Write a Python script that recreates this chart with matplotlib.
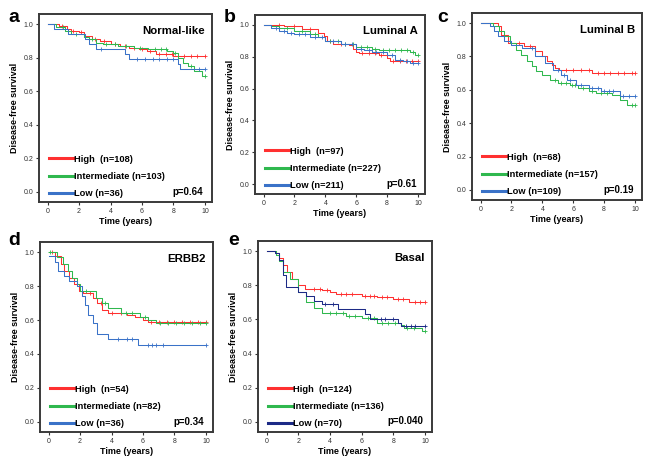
import numpy as np
import matplotlib
matplotlib.use("Agg")
import matplotlib.pyplot as plt
from matplotlib.lines import Line2D

plt.rcParams['font.family'] = ['Liberation Sans', 'DejaVu Sans']

RED = '#ff3030'
GREEN = '#2fb84e'
BLUE = '#3a72c8'
NAVY = '#1c2a86'

# --- a: Normal-like ---
a_high_t = [0, 0.7, 1.2, 1.5, 2.0, 2.3, 2.8, 3.3, 4.0, 4.6, 5.2, 5.8, 6.3, 6.9, 8.0]
a_high_s = [1.0, 0.99, 0.97, 0.96, 0.95, 0.93, 0.91, 0.90, 0.88, 0.87, 0.86, 0.85, 0.84, 0.82, 0.81]
a_high_c = [0.9, 1.6, 2.1, 3.0, 3.6, 4.3, 4.9, 5.5, 6.0, 6.5, 7.1, 7.5, 7.9, 8.3, 8.7, 9.1, 9.5, 10.0]
a_int_t = [0, 0.5, 1.1, 1.5, 2.3, 2.6, 3.1, 3.5, 4.5, 5.5, 6.4, 7.6, 8.0, 8.3, 8.6, 8.9, 9.3, 9.8]
a_int_s = [1.0, 0.98, 0.96, 0.94, 0.92, 0.91, 0.89, 0.88, 0.87, 0.86, 0.85, 0.84, 0.83, 0.80, 0.77, 0.75, 0.72, 0.69]
a_int_c = [1.0, 1.8, 2.8, 3.7, 4.3, 5.0, 5.9, 6.8, 7.2, 7.5, 8.1, 9.1, 10.0]
a_low_t = [0, 0.4, 1.3, 2.4, 2.6, 3.1, 4.9, 5.2, 8.3, 8.4]
a_low_s = [1.0, 0.97, 0.94, 0.91, 0.88, 0.85, 0.82, 0.79, 0.76, 0.73]
a_low_c = [3.4, 5.7, 6.2, 6.7, 7.1, 7.6, 8.0, 9.6, 10.0]

# --- b: Luminal A ---
b_high_t = [0, 1.3, 2.5, 3.5, 3.9, 4.1, 4.5, 5.5, 5.8, 6.0, 6.2, 7.5, 8.0, 8.2]
b_high_s = [1.0, 0.99, 0.97, 0.95, 0.93, 0.90, 0.88, 0.87, 0.85, 0.83, 0.82, 0.81, 0.79, 0.77]
b_high_c = [1.0, 2.0, 3.0, 4.3, 5.0, 6.4, 6.8, 7.2, 7.6, 8.4, 8.8, 9.2, 9.6, 10.0]
b_int_t = [0, 0.5, 1.0, 2.0, 3.0, 3.5, 4.0, 5.0, 6.0, 7.0, 7.5, 9.5, 9.8]
b_int_s = [1.0, 0.99, 0.98, 0.96, 0.94, 0.92, 0.90, 0.88, 0.86, 0.85, 0.84, 0.83, 0.81]
b_int_c = [1.5, 2.5, 3.3, 4.3, 4.8, 5.3, 5.8, 6.3, 6.7, 7.2, 7.7, 8.1, 8.5, 8.9, 9.3, 9.7, 10.0]
b_low_t = [0, 0.5, 1.0, 1.5, 2.0, 3.0, 4.0, 5.0, 6.0, 6.5, 7.0, 8.0, 8.5, 9.0, 9.5]
b_low_s = [1.0, 0.98, 0.96, 0.95, 0.94, 0.92, 0.90, 0.88, 0.85, 0.84, 0.83, 0.81, 0.78, 0.77, 0.76]
b_low_c = [0.8, 1.3, 1.8, 2.3, 2.7, 3.3, 3.8, 4.5, 5.3, 5.7, 6.3, 6.8, 7.3, 7.7, 8.3, 8.8, 9.3, 9.7, 10.0]

# --- c: Luminal B ---
c_high_t = [0, 1.1, 1.3, 1.8, 2.8, 3.5, 4.0, 4.3, 4.6, 4.8, 5.1, 7.2]
c_high_s = [1.0, 0.98, 0.93, 0.88, 0.86, 0.83, 0.80, 0.77, 0.75, 0.73, 0.72, 0.70]
c_high_c = [2.5, 3.2, 5.5, 6.0, 6.5, 7.0, 7.6, 8.0, 8.4, 8.9, 9.3, 9.8, 10.0]
c_int_t = [0, 0.8, 1.2, 1.5, 1.9, 2.3, 2.6, 3.0, 3.3, 3.6, 4.0, 4.5, 5.0, 5.8, 6.3, 7.0, 7.5, 8.5, 9.0, 9.5]
c_int_s = [1.0, 0.98, 0.95, 0.92, 0.88, 0.84, 0.81, 0.77, 0.74, 0.71, 0.69, 0.66, 0.64, 0.63, 0.61, 0.59, 0.58, 0.57, 0.54, 0.51]
c_int_c = [4.8, 5.2, 5.5, 5.9, 6.1, 6.6, 7.2, 7.8, 8.2, 9.8, 10.0]
c_low_t = [0, 0.6, 0.9, 1.1, 1.5, 2.0, 2.7, 3.5, 4.2, 4.7, 5.2, 5.6, 6.2, 7.0, 7.8, 9.0]
c_low_s = [1.0, 0.98, 0.95, 0.92, 0.89, 0.87, 0.85, 0.80, 0.76, 0.72, 0.69, 0.66, 0.63, 0.61, 0.59, 0.56]
c_low_c = [3.3, 5.0, 5.4, 5.8, 6.5, 7.2, 7.6, 8.0, 8.3, 8.6, 9.2, 9.6, 10.0]

# --- d: ERBB2 ---
d_high_t = [0, 0.4, 0.8, 1.0, 1.3, 1.6, 1.9, 2.2, 2.8, 3.1, 3.4, 3.8, 5.0, 5.5, 6.0, 6.3]
d_high_s = [1.0, 0.98, 0.93, 0.89, 0.85, 0.81, 0.77, 0.76, 0.73, 0.70, 0.66, 0.64, 0.63, 0.62, 0.60, 0.59]
d_high_c = [0.2, 2.6, 3.3, 4.0, 4.6, 6.5, 7.0, 7.5, 8.0, 8.5, 9.0, 9.5, 10.0]
d_int_t = [0, 0.5, 0.9, 1.2, 1.5, 1.8, 2.0, 3.0, 3.4, 3.8, 4.6, 5.8, 6.3, 6.8]
d_int_s = [1.0, 0.97, 0.93, 0.89, 0.85, 0.81, 0.77, 0.73, 0.70, 0.67, 0.64, 0.62, 0.60, 0.58]
d_int_c = [0.1, 2.4, 3.6, 4.9, 5.3, 6.1, 7.1, 7.6, 8.1, 8.6, 9.1, 9.6, 10.0]
d_low_t = [0, 0.4, 0.6, 1.0, 1.3, 1.8, 2.1, 2.3, 2.5, 2.8, 3.1, 3.8, 5.7]
d_low_s = [0.98, 0.94, 0.89, 0.86, 0.83, 0.80, 0.74, 0.69, 0.63, 0.58, 0.52, 0.49, 0.45]
d_low_c = [4.4, 5.0, 5.3, 6.3, 6.6, 6.8, 7.3, 10.0]

# --- e: Basal ---
e_high_t = [0, 0.6, 0.8, 1.0, 1.3, 1.6, 2.0, 2.4, 3.5, 4.0, 4.4, 6.0, 7.0, 8.0, 9.0]
e_high_s = [1.0, 0.99, 0.96, 0.92, 0.88, 0.84, 0.80, 0.78, 0.77, 0.76, 0.75, 0.74, 0.73, 0.72, 0.70]
e_high_c = [3.0, 3.4, 3.8, 4.7, 5.0, 5.4, 6.2, 6.5, 6.8, 7.3, 7.6, 8.3, 8.6, 9.4, 9.7, 10.0]
e_int_t = [0, 0.6, 0.8, 1.0, 1.5, 2.0, 2.5, 3.0, 3.5, 5.0, 6.0, 7.0, 8.5, 8.7, 9.8]
e_int_s = [1.0, 0.98, 0.94, 0.88, 0.84, 0.76, 0.70, 0.67, 0.64, 0.62, 0.61, 0.58, 0.57, 0.55, 0.53]
e_int_c = [4.0, 4.4, 4.8, 5.2, 5.6, 6.4, 6.8, 7.3, 7.7, 8.1, 8.9, 9.3, 10.0]
e_low_t = [0, 0.5, 0.8, 1.0, 1.2, 2.0, 2.5, 3.0, 3.5, 4.5, 6.2, 6.5, 8.3, 8.5]
e_low_s = [1.0, 0.99, 0.95, 0.86, 0.79, 0.76, 0.74, 0.71, 0.69, 0.66, 0.63, 0.60, 0.58, 0.56]
e_low_c = [3.7, 4.2, 7.2, 7.5, 8.0, 8.8, 9.1, 9.4, 10.0]

panel_letters = ['a', 'b', 'c', 'd', 'e']
panel_titles = ['Normal-like', 'Luminal A', 'Luminal B', 'ERBB2', 'Basal']
p_values = ['p=0.64', 'p=0.61', 'p=0.19', 'p=0.34', 'p=0.040']
n_high = [108, 97, 68, 54, 124]
n_int = [103, 227, 157, 82, 136]
n_low = [36, 211, 109, 36, 70]

curves = [
    [(a_high_t, a_high_s, a_high_c), (a_int_t, a_int_s, a_int_c), (a_low_t, a_low_s, a_low_c)],
    [(b_high_t, b_high_s, b_high_c), (b_int_t, b_int_s, b_int_c), (b_low_t, b_low_s, b_low_c)],
    [(c_high_t, c_high_s, c_high_c), (c_int_t, c_int_s, c_int_c), (c_low_t, c_low_s, c_low_c)],
    [(d_high_t, d_high_s, d_high_c), (d_int_t, d_int_s, d_int_c), (d_low_t, d_low_s, d_low_c)],
    [(e_high_t, e_high_s, e_high_c), (e_int_t, e_int_s, e_int_c), (e_low_t, e_low_s, e_low_c)],
]

# axes frames in pixels: left, right, top, bottom
W, H = 649, 461
frames = [(39, 212, 14, 202), (255, 425, 15, 194), (472, 642, 13, 200),
          (40, 213, 242, 432), (258, 432, 241, 432)]
letter_pos = [(8, 18), (224, 18), (437, 18), (8, 240), (228, 240)]

fig = plt.figure(figsize=(W / 100, H / 100), dpi=100)

for i in range(5):
    l, r, t, b = frames[i]
    ax = fig.add_axes([l / W, 1 - b / H, (r - l) / W, (b - t) / H])
    colors = [RED, GREEN, NAVY if i == 4 else BLUE]
    for (tt, ss, cc), col in zip(curves[i], colors):
        tt = np.array(tt + [10.0])
        ss = np.array(ss + [ss[-1]])
        ax.step(tt, ss, where='post', color=col, lw=0.75)
        cc = np.array(cc)
        cs = ss[np.searchsorted(tt, cc, side='right') - 1]
        ax.plot(cc, cs, '+', color=col, ms=2.6, mew=0.6)

    ax.set_xlim(-0.55, 10.45)
    ax.set_ylim(-0.06, 1.06)
    ax.set_xticks([0, 2, 4, 6, 8, 10])
    ax.set_yticks([0.0, 0.2, 0.4, 0.6, 0.8, 1.0])
    ax.set_yticklabels(['0.0', '0.2', '0.4', '0.6', '0.8', '1.0'])
    ax.tick_params(labelsize=5, length=2.5, width=0.8, pad=1.5, colors='#333333')
    for sp in ax.spines.values():
        sp.set_linewidth(1.4)
        sp.set_color('#3a3a3a')
    ax.set_xlabel('Time (years)', fontsize=6.5, fontweight='bold', labelpad=2)
    ax.set_ylabel('Disease-free survival', fontsize=6.5, fontweight='bold', labelpad=3)

    ax.text(0.96, 0.91, panel_titles[i], transform=ax.transAxes, ha='right', va='center',
            fontsize=8.2, fontweight='bold')
    ax.text(0.95, 0.055, p_values[i], transform=ax.transAxes, ha='right', va='center',
            fontsize=7, fontweight='bold')

    handles = [Line2D([], [], color=c, lw=2.2) for c in colors]
    labels = ['High  (n=%d)' % n_high[i], 'Intermediate (n=%d)' % n_int[i],
              'Low (n=%d)' % n_low[i]]
    ax.legend(handles, labels, loc='lower left', bbox_to_anchor=(0.04, 0.005), frameon=False,
              prop={'size': 6.7, 'weight': 'bold'}, handlelength=2.6, handletextpad=0.1,
              labelspacing=0.9, borderpad=0.3, borderaxespad=0)

    fig.text(letter_pos[i][0] / W, 1 - letter_pos[i][1] / H, panel_letters[i],
             fontsize=14, fontweight='bold', ha='left', va='center')

fig.savefig('out.png', dpi=100)
